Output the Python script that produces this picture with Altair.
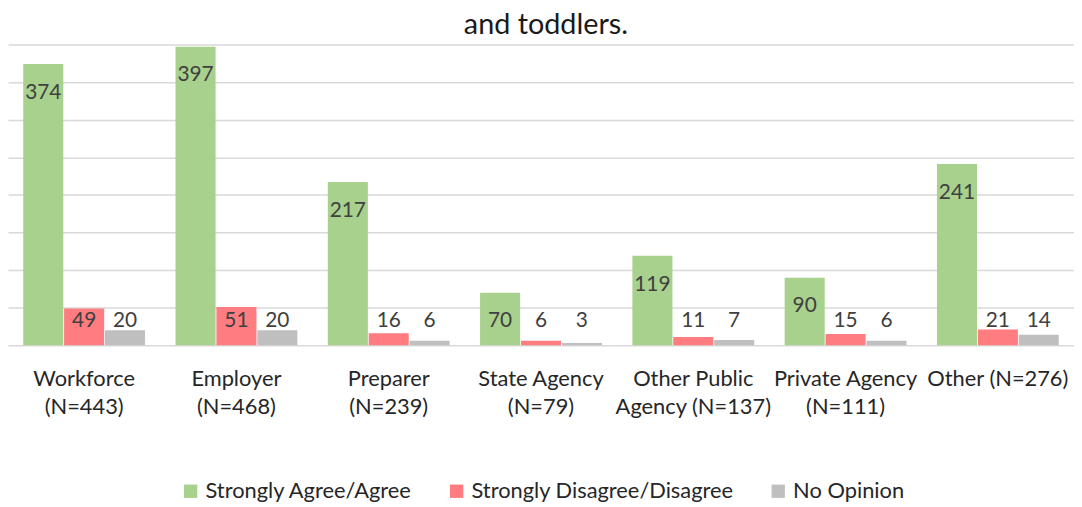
import altair as alt
import pandas as pd

categories = ["Workforce\n(N=443)", "Employer\n(N=468)", "Preparer\n(N=239)", "State Agency\n(N=79)",
              "Other Public\nAgency (N=137)", "Private Agency\n(N=111)", "Other (N=276)"]
series = ["Strongly Agree/Agree", "Strongly Disagree/Disagree", "No Opinion"]
agree = [374, 397, 217, 70, 119, 90, 241]
disagree = [49, 51, 16, 6, 11, 15, 21]
no_opinion = [20, 20, 6, 3, 7, 6, 14]
colors = ["#A9D18E", "#FF7C80", "#BFBFBF"]
title_text = "and toddlers."

rows = []
for vals, s in zip([agree, disagree, no_opinion], series):
    for c, v in zip(categories, vals):
        rows.append({"category": c, "series": s, "value": v})
df = pd.DataFrame(rows)

FONT = "Lato"

x = alt.X("category:N", sort=categories, title=None,
          scale=alt.Scale(paddingInner=0.2, paddingOuter=0.1),
          axis=alt.Axis(labelAngle=0, labelExpr="split(datum.label, '\\n')", labelFont=FONT,
                        labelFontSize=22, labelColor="#262626", labelLineHeight=29,
                        labelPadding=23, domain=False, ticks=False, labelLimit=300))
xo = alt.XOffset("series:N", sort=series, scale=alt.Scale(paddingInner=0.02))
yaxis = alt.Axis(labels=False, ticks=False, domain=False, values=list(range(0, 450, 50)),
                 grid=True, gridColor="#D9D9D9", gridWidth=1.5, title=None)
yscale = alt.Scale(domain=[0, 446], nice=False)

bars = alt.Chart(df).mark_bar().encode(
    x=x, xOffset=xo,
    y=alt.Y("value:Q", title=None, scale=yscale, axis=yaxis),
    color=alt.Color("series:N", sort=series, scale=alt.Scale(domain=series, range=colors),
                    legend=alt.Legend(title=None, orient="none", direction="horizontal",
                                      legendX=173, legendY=474, symbolType="square",
                                      symbolSize=180, symbolStrokeWidth=0,
                                      labelFont=FONT, labelFontSize=22, labelColor="#262626",
                                      columnPadding=33, labelOffset=4, labelLimit=400)),
)

labels = alt.Chart(df).transform_calculate(
    pos="max(datum.value, 71)"
).mark_text(font=FONT, fontSize=21, color="#404040", baseline="middle", dy=29).encode(
    x=x, xOffset=xo,
    y=alt.Y("pos:Q", title=None, scale=yscale, axis=yaxis),
    text="value:Q",
)

title = alt.Chart(pd.DataFrame({"t": [title_text]})).mark_text(
    font=FONT, fontSize=29, color="#1a1a1a", baseline="alphabetic", align="center"
).encode(x=alt.value(542), y=alt.value(24), text="t:N")

chart = alt.layer(bars, labels, title).properties(
    width=1074, height=338, padding=0
).configure_view(stroke=None)

chart.save("out.html", embed_options={"renderer": "svg", "actions": False})
